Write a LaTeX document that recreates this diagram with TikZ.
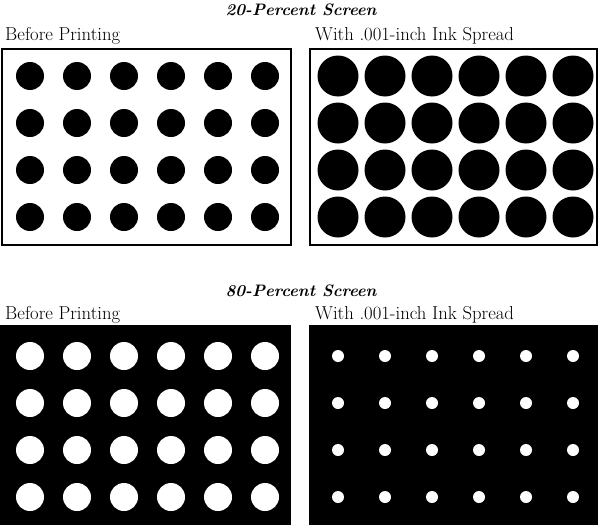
\documentclass[tikz,border=0pt]{standalone}
\usepackage{tikz}

\begin{document}
\begin{tikzpicture}[
  x=1pt,y=-1pt,
  title/.style={font=\fontsize{16.6}{20}\selectfont\bfseries\itshape,anchor=base,inner sep=0pt},
  caption/.style={font=\fontsize{18.7}{22}\selectfont,anchor=base west,inner sep=0pt},
  panel/.style={draw=black,line width=2pt,fill=white},
  inkpanel/.style={fill=black},
  dot/.style={fill=black},
  hole/.style={fill=white},
]
\useasboundingbox (0,0) rectangle (600,525);

% 20-percent screen
\node[title] (title20) at (301,15) {20-Percent Screen};
\node[caption] (before20) at (5,40) {Before Printing};
\node[caption] (spread20) at (315,40) {With .001-inch Ink Spread};
\draw[panel] (2,49) rectangle (291,245);
\draw[panel] (310,49) rectangle (597,245);
\foreach \i in {0,...,5}
  \foreach \j in {0,...,3} {
    \fill[dot] (30+47*\i,76+47*\j) circle (14);
    \fill[dot] (338+47*\i,76+47*\j) circle (20.5);
  }

% 80-percent screen
\node[title] (title80) at (301,296) {80-Percent Screen};
\node[caption] (before80) at (5,319) {Before Printing};
\node[caption] (spread80) at (315,319) {With .001-inch Ink Spread};
\fill[inkpanel] (0,325) rectangle (291,525);
\fill[inkpanel] (309,325) rectangle (598,525);
\foreach \i in {0,...,5}
  \foreach \j in {0,...,3} {
    \fill[hole] (30+47*\i,356+47*\j) circle (14);
    \fill[hole] (338+47*\i,356+47*\j) circle (6);
  }
\end{tikzpicture}
\end{document}
